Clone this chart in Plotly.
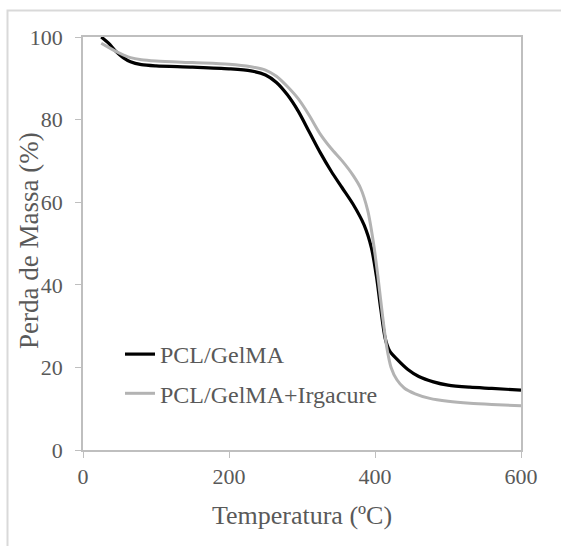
import plotly.graph_objects as go

# PCL/GelMA (black)
temp_a = [25, 35, 45, 55, 65, 80, 100, 150, 200, 230, 250, 265, 280, 295, 310, 325, 340, 355,
          370, 385, 395, 402, 408, 414, 420, 430, 445, 460, 480, 500, 530, 560, 600]
mass_a = [100, 98.5, 96.5, 95, 94, 93.3, 93, 92.7, 92.3, 91.8, 90.8, 89, 86, 82, 77, 72, 67.5, 63.5,
          59.5, 54.5, 49, 42, 34, 27, 24, 22, 19.5, 17.8, 16.5, 15.7, 15.2, 14.9, 14.5]

# PCL/GelMA+Irgacure (gray)
temp_b = [25, 35, 45, 55, 65, 80, 100, 150, 200, 230, 250, 265, 280, 295, 310, 325, 340, 355,
          370, 380, 390, 398, 404, 410, 416, 422, 430, 440, 455, 475, 500, 530, 560, 600]
mass_b = [98.5, 97.5, 96.5, 95.7, 95, 94.5, 94.2, 93.8, 93.4, 92.8, 92, 90.5, 88, 85, 81, 76.5, 73, 70,
          66.5, 63.5, 58, 50, 42, 33, 25, 20, 17, 15, 13.6, 12.5, 11.8, 11.3, 11, 10.7]

names = ["PCL/GelMA", "PCL/GelMA+Irgacure"]
x_ticks = [0, 200, 400, 600]
y_ticks = [0, 20, 40, 60, 80, 100]
x_title = "Temperatura (ºC)"
y_title = "Perda de Massa (%)"

FONT = "Liberation Serif"
TXT = "#595959"
AX = "#bfbfbf"

fig = go.Figure()
fig.add_trace(go.Scatter(x=temp_a, y=mass_a, mode="lines", name=names[0], legendgroup="a",
                         line=dict(color="#000000", width=3.2, shape="spline", smoothing=0.8)))
fig.add_trace(go.Scatter(x=temp_b, y=mass_b, mode="lines", name=names[1], legendgroup="b",
                         line=dict(color="#b3b3b3", width=3, shape="spline", smoothing=0.8)))

W, H = 561, 546
L, R, T, B = 83, 40, 37, 96
PW, PH = W - L - R, H - T - B

fig.update_layout(
    width=W, height=H,
    margin=dict(l=L, r=R, t=T, b=B),
    paper_bgcolor="white", plot_bgcolor="white",
    font=dict(family=FONT, color=TXT),
    showlegend=True,
    legend=dict(x=(120 - L) / PW, y=(H - B - 332) / PH,
                xanchor="left", yanchor="top", bgcolor="rgba(0,0,0,0)",
                font=dict(family=FONT, size=24, color=TXT),
                tracegroupgap=5, traceorder="grouped", itemwidth=30),
    xaxis=dict(range=[0, 600], tickvals=x_ticks, ticks="outside", ticklen=6, tickcolor=AX,
               showline=True, linecolor=AX, linewidth=1.5, mirror=True, showgrid=False,
               zeroline=False, tickfont=dict(family=FONT, size=22, color=TXT),
               title=dict(text=x_title, font=dict(family=FONT, size=26, color=TXT),
                          standoff=18)),
    yaxis=dict(range=[0, 100], tickvals=y_ticks, ticks="outside", ticklen=6, tickcolor=AX,
               showline=True, linecolor=AX, linewidth=1.5, mirror=True, showgrid=False,
               zeroline=False, tickfont=dict(family=FONT, size=22, color=TXT),
               ticklabelstandoff=8),
)

# y axis title placed where the reference puts it (overlapping the tick-label column)
fig.add_annotation(text=y_title, xref="paper", yref="paper", x=(29 - L) / PW, y=(H - B - 241) / PH,
                   textangle=-90, showarrow=False, xanchor="center", yanchor="middle",
                   font=dict(family=FONT, size=27, color=TXT))

# outer chart frame (only left and top edges visible in the crop)
fig.add_shape(type="rect", xref="paper", yref="paper",
              x0=(7.5 - L) / PW, x1=3, y0=-3, y1=(H - B - 10.5) / PH,
              line=dict(color="#d9d9d9", width=2), fillcolor="rgba(0,0,0,0)", layer="below")

fig.write_html("out.html")
